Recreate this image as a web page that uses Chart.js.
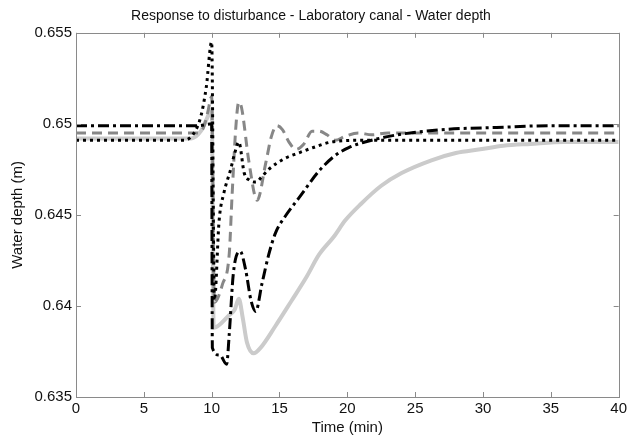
<!DOCTYPE html>
<html>
<head>
<meta charset="utf-8">
<title>Water depth</title>
<script src="https://cdn.jsdelivr.net/npm/chart.js@4/dist/chart.umd.min.js"></script>
<style>
  html, body { margin: 0; padding: 0; background: #fff; }
  #wrap { width: 630px; height: 439px; }
</style>
</head>
<body>
<div id="wrap"><canvas id="depthChart" width="630" height="439"></canvas></div>
<script>
// values (time in min, depth in m)
const timeSolid = [0, 8.5, 9.2, 9.6, 10, 10.15, 11.3, 11.7, 12.0, 12.3, 12.6, 13.1, 13.6, 14.7, 15.9, 17.0, 17.9, 19.0, 19.85, 21, 22.5, 24, 26.2, 28, 29.8, 31.5, 33.5, 36, 38.4, 40];
const depthSolid = [0.6492, 0.6492, 0.6496, 0.6502, 0.6508, 0.6388, 0.6395, 0.6398, 0.6404, 0.6393, 0.6380, 0.6374, 0.6377, 0.6389, 0.6403, 0.6416, 0.6428, 0.6438, 0.6447, 0.6456, 0.6466, 0.6473, 0.6480, 0.6484, 0.6486, 0.6488, 0.6489, 0.6490, 0.6490, 0.6490];

const timeDashed = [0, 9.0, 9.4, 9.7, 10.0, 10.2, 10.8, 11.3, 11.5, 11.8, 12.0, 12.2, 12.75, 13.35, 14.0, 14.4, 14.8, 15.2, 15.7, 16.2, 16.8, 17.4, 17.9, 18.5, 19.1, 19.8, 20.8, 21.8, 23, 40];
const depthDashed = [0.6495, 0.6495, 0.6498, 0.6506, 0.6515, 0.6402, 0.6412, 0.6429, 0.6460, 0.6500, 0.6512, 0.6509, 0.6479, 0.6458, 0.6479, 0.6493, 0.6499, 0.6497, 0.6490, 0.6486, 0.6489, 0.6496, 0.6496, 0.6494, 0.6491, 0.6493, 0.6495, 0.6494, 0.6495, 0.6495];

const timeDashDot = [0, 9.0, 10.0, 10.05, 10.6, 11.1, 11.3, 11.6, 12.1, 12.5, 12.9, 13.25, 13.7, 14.2, 14.7, 15.4, 16.5, 17.9, 19, 20.1, 21.3, 23.7, 27.4, 31, 35, 40];
const depthDashDot = [0.6499, 0.6499, 0.6500, 0.6377, 0.6373, 0.6368, 0.6385, 0.6418, 0.6430, 0.6420, 0.6403, 0.6397, 0.6412, 0.6428, 0.6440, 0.6449, 0.6460, 0.6474, 0.6482, 0.6487, 0.6490, 0.6494, 0.6497, 0.6498, 0.6499, 0.6499];

const timeDotted = [0, 8.0, 8.7, 9.2, 9.6, 10.0, 10.2, 10.55, 10.9, 11.4, 11.7, 12.0, 12.4, 12.8, 13.25, 13.7, 14.2, 15.4, 16.4, 17.5, 18.8, 21.3, 23, 40];
const depthDotted = [0.6491, 0.6491, 0.6495, 0.6504, 0.6520, 0.6545, 0.6403, 0.6447, 0.6462, 0.6475, 0.6484, 0.6490, 0.6473, 0.6469, 0.6468, 0.6471, 0.6475, 0.6481, 0.6484, 0.6487, 0.6490, 0.6491, 0.6491, 0.6491];

const xTicks = [0, 5, 10, 15, 20, 25, 30, 35, 40];
const yTicks = [0.635, 0.64, 0.645, 0.65, 0.655];

const toPoints = (ts, vs) => ts.map((t, i) => ({ x: t, y: vs[i] }));

// matlab style box with inward ticks on all four sides
const boxTicks = {
  id: "boxTicks",
  afterDraw(chart) {
    const { ctx, chartArea: a, scales } = chart;
    ctx.save();
    ctx.strokeStyle = "#8a8a8a";
    ctx.lineWidth = 1;
    ctx.strokeRect(Math.round(a.left) + 0.5, Math.round(a.top) + 0.5, Math.round(a.right - a.left), Math.round(a.bottom - a.top));
    ctx.beginPath();
    xTicks.forEach(v => {
      const px = Math.round(scales.x.getPixelForValue(v)) + 0.5;
      ctx.moveTo(px, a.bottom); ctx.lineTo(px, a.bottom - 5);
      ctx.moveTo(px, a.top); ctx.lineTo(px, a.top + 5);
    });
    yTicks.forEach(v => {
      const py = Math.round(scales.y.getPixelForValue(v)) + 0.5;
      ctx.moveTo(a.left, py); ctx.lineTo(a.left + 5, py);
      ctx.moveTo(a.right, py); ctx.lineTo(a.right - 5, py);
    });
    ctx.stroke();
    ctx.restore();
  }
};

const font = "'Liberation Sans', Arial, Helvetica, sans-serif";

new Chart(document.getElementById("depthChart"), {
  type: "line",
  data: {
    datasets: [
      {
        label: "solid",
        data: toPoints(timeSolid, depthSolid),
        borderColor: "#cbcbcb",
        borderWidth: 4,
        order: 4
      },
      {
        label: "dashed",
        data: toPoints(timeDashed, depthDashed),
        borderColor: "#878787",
        borderWidth: 3,
        borderDash: [10, 6],
        order: 3
      },
      {
        label: "dashdot",
        data: toPoints(timeDashDot, depthDashDot),
        borderColor: "#000",
        borderWidth: 3,
        borderDash: [11, 4, 3, 4],
        order: 2
      },
      {
        label: "dotted",
        data: toPoints(timeDotted, depthDotted),
        borderColor: "#000",
        borderWidth: 3,
        borderDash: [3, 4],
        order: 1
      }
    ]
  },
  options: {
    responsive: false,
    animation: false,
    layout: { padding: { left: 0, right: 8, top: 0, bottom: 0 } },
    elements: {
      point: { radius: 0 },
      line: { cubicInterpolationMode: "monotone", fill: false }
    },
    plugins: {
      legend: { display: false },
      tooltip: { enabled: false },
      title: {
        display: true,
        text: "Response to disturbance - Laboratory canal - Water depth",
        color: "#111",
        font: { family: font, size: 14, weight: "normal" },
        padding: { top: 8, bottom: 8 }
      }
    },
    scales: {
      x: {
        type: "linear",
        min: 0,
        max: 40,
        afterBuildTicks: s => { s.ticks = xTicks.map(v => ({ value: v })); },
        afterFit: s => { s.height = 42; },
        grid: { drawOnChartArea: false, drawTicks: false },
        border: { display: false },
        ticks: { color: "#111", padding: 3, maxRotation: 0, font: { family: font, size: 15 } },
        title: {
          display: true,
          text: "Time (min)",
          color: "#111",
          font: { family: font, size: 15 },
          padding: { top: 0, bottom: 2 }
        }
      },
      y: {
        min: 0.635,
        max: 0.655,
        afterBuildTicks: s => { s.ticks = yTicks.map(v => ({ value: v })); },
        afterFit: s => { s.width = 76; },
        grid: { drawOnChartArea: false, drawTicks: false },
        border: { display: false },
        ticks: {
          color: "#111",
          padding: 4,
          font: { family: font, size: 15 },
          callback: v => String(parseFloat(Number(v).toFixed(3)))
        },
        title: {
          display: true,
          text: "Water depth (m)",
          color: "#111",
          font: { family: font, size: 15 },
          padding: { top: 9, bottom: 0 }
        }
      }
    }
  },
  plugins: [boxTicks]
});
</script>
</body>
</html>
